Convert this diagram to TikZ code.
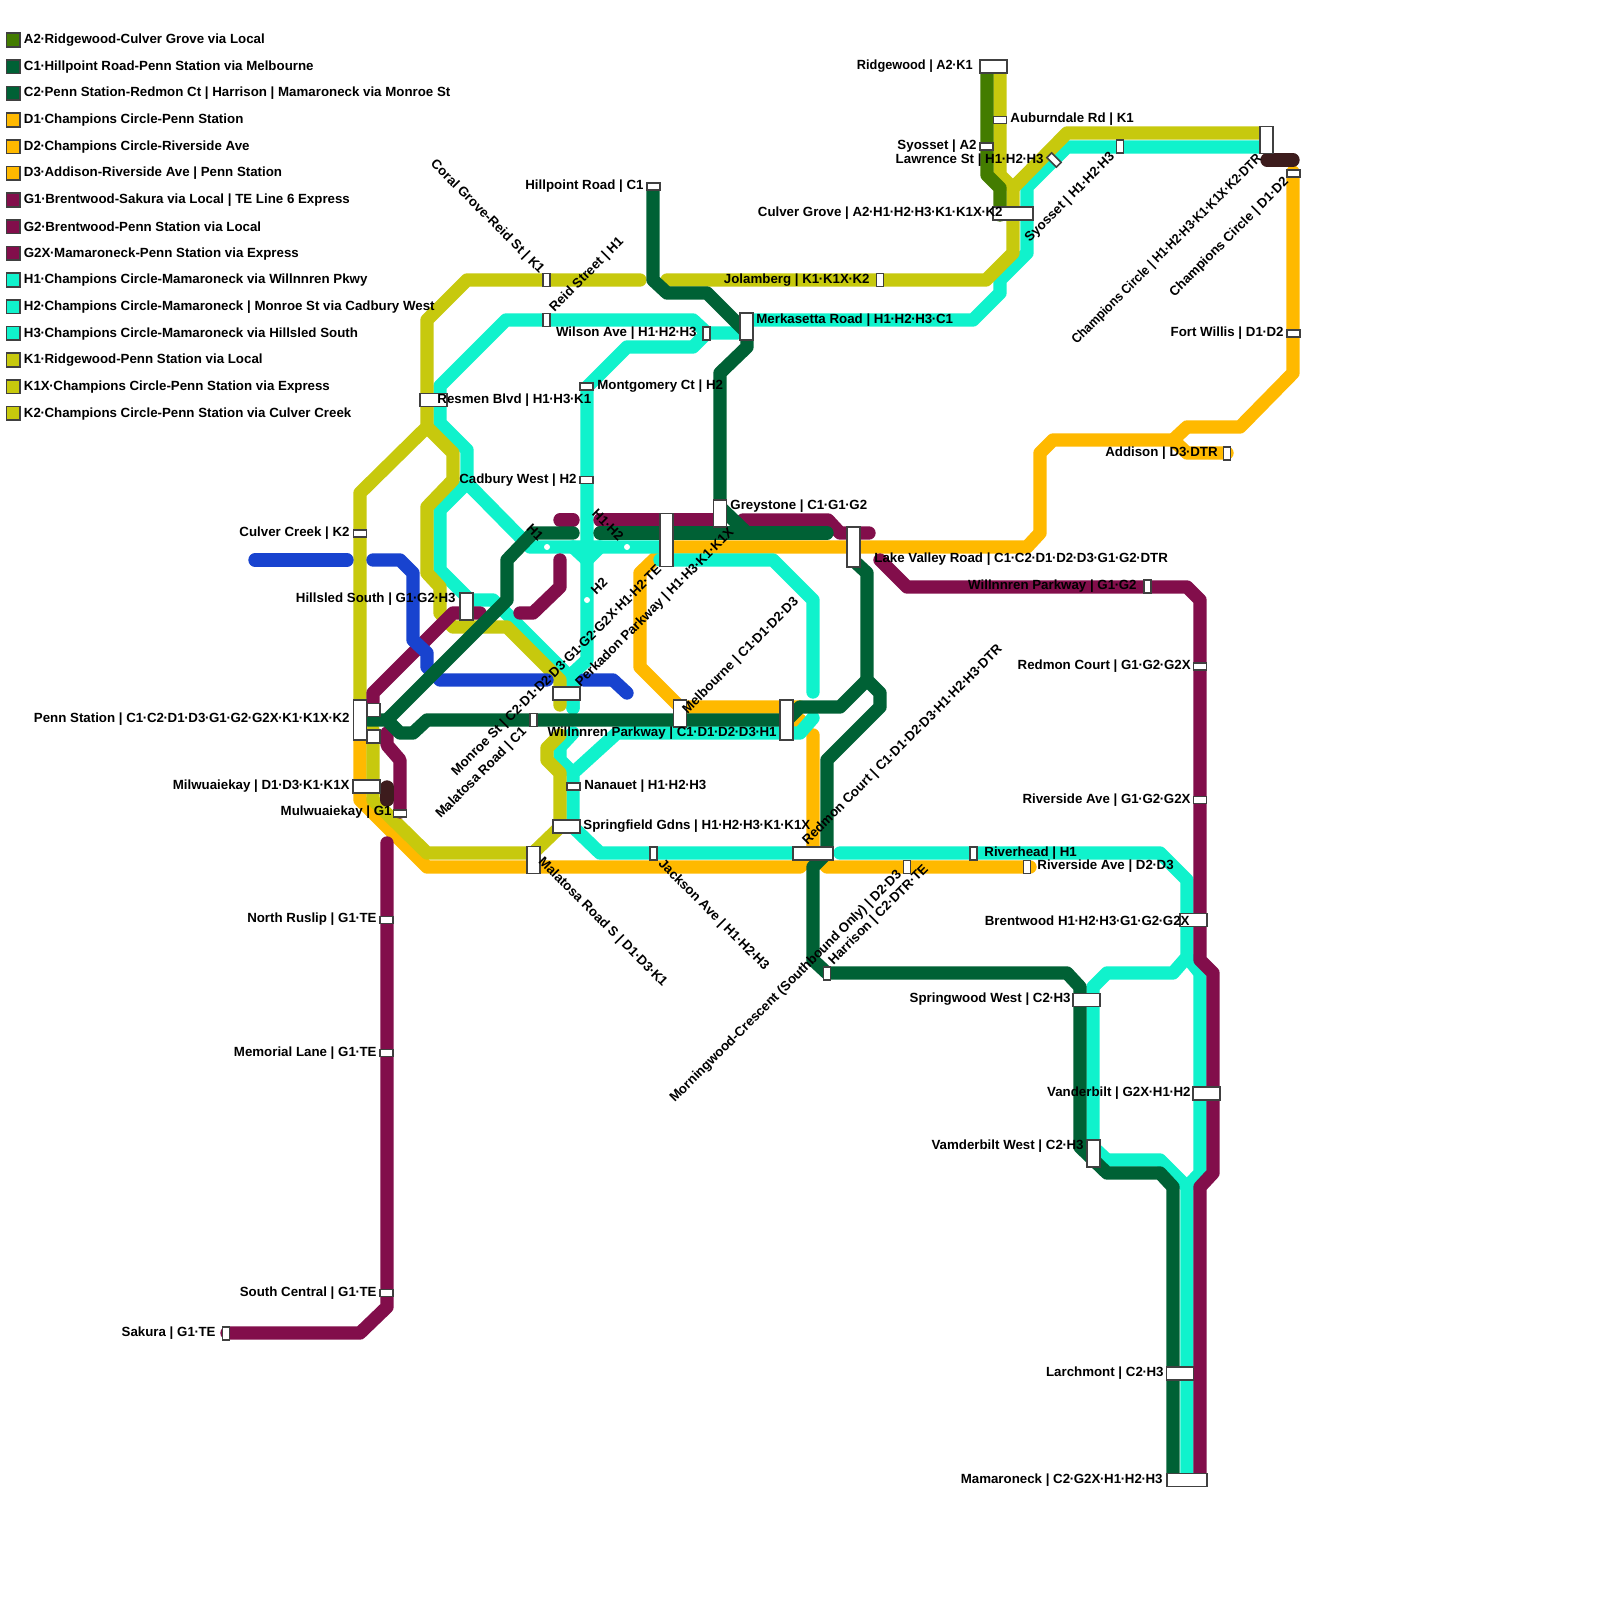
\documentclass[tikz,border=0pt]{standalone}
\usepackage{fontspec}
\setmainfont{Liberation Sans}
\catcode`·=\active
\protected\def·{\kern-.0275em\char"00B7\relax\kern-.0275em}
\definecolor{cA}{HTML}{437C00}
\definecolor{cC}{HTML}{006135}
\definecolor{cD}{HTML}{FFB900}
\definecolor{cG}{HTML}{820E4B}
\definecolor{cH}{HTML}{10F2CC}
\definecolor{cK}{HTML}{C7C90D}
\definecolor{cB}{HTML}{1843CF}
\definecolor{cT}{HTML}{3D1C1D}
\definecolor{cE}{HTML}{404040}
\newcommand{\stn}[5]{\node[stnbox,minimum width=#4*0.5pt,minimum height=#5*0.5pt] (#1) at (#2,#3) {};}
\newcommand{\lgd}[3]{\node[lgbox,fill=#2] (lg#1) at (13.3,{40+26.67*#1}) {}; \node[lbl,anchor=west,yshift=-0.75pt] (lt#1) at (23.5,{38.7+26.67*#1}) {#3};}
\tikzset{
  lbl/.style={font=\bfseries\fontsize{6.65}{8}\selectfont,inner sep=0pt,text=black},
  lineD/.style={line width=6.667pt,line cap=round,line join=round,cD},
  lineA/.style={lineD,cA}, lineC/.style={lineD,cC}, lineG/.style={lineD,cG},
  lineH/.style={lineD,cH}, lineK/.style={lineD,cK}, lineB/.style={lineD,cB}, lineT/.style={lineD,cT},
  stnbox/.style={rectangle,draw=cE,fill=white,line width=0.8pt,inner sep=0pt},
  lgbox/.style={rectangle,draw=cE,line width=0.8pt,inner sep=0pt,minimum width=6.8pt,minimum height=6.8pt},
  dot/.style={circle,fill=white,inner sep=0pt,minimum size=3pt}
}
\begin{document}
\begin{tikzpicture}[x=0.5pt,y=-0.5pt]
\useasboundingbox (0,0) rectangle (1600,1600);
\fill[white] (0,0) rectangle (1600,1600);
% orange
\draw[lineD] (1293,172)--(1293,373)--(1240,427)--(1187,427)--(1173,440)--(1053,440)--(1040,453)--(1040,533)--(1027,547)--(667,547)--(640,573)--(640,667)--(680,707)--(800,707);
\draw[lineD] (1173,440)--(1187,453)--(1227,453);
\draw[lineD] (787,733)--(800,720);
\draw[lineD] (813,735)--(813,853)--(800,867)--(427,867)--(360,800)--(360,720);
\draw[lineD] (813,853)--(827,867)--(1030,867);
% cyan
\draw[lineH] (1267,147)--(1067,147)--(1027,187)--(1027,253)--(1000,280)--(1000,293)--(973,320)--(747,320);
\draw[lineH] (737,333)--(707,333)--(693,320)--(506,320)--(440,386)--(440,423)--(467,450)--(467,483)--(530,547)--(658,547);
\draw[lineH] (707,333)--(693,347)--(627,347)--(587,387)--(587,660)--(573,673)--(573,708);
\draw[lineH] (467,483)--(440,510)--(440,570)--(470,600)--(493,600)--(573,680)--(573,708);
\draw[lineH] (573,547)--(587,560)--(600,547);
\draw[lineH] (660,560)--(773,560)--(813,600)--(813,692);
\draw[lineH] (813,718)--(800,733)--(617,733)--(573,773)--(573,827)--(600,853)--(793,853);
\draw[lineH] (573,773)--(560,760)--(560,747)--(573,733);
\draw[lineH] (840,853)--(1160,853)--(1187,880)--(1187,957)--(1173,973)--(1107,973)--(1093,987)--(1093,1147)--(1107,1160)--(1160,1160)--(1187,1187)--(1187,1480);
\draw[lineH] (1187,957)--(1200,973)--(1200,1173)--(1187,1187);
% olive
\draw[lineK] (1000,67)--(1000,175)--(1013,188)--(1013,253)--(986,280)--(667,280);
\draw[lineK] (1013,188)--(1067,133)--(1267,133);
\draw[lineK] (640,280)--(467,280)--(427,320)--(427,427)--(360,493)--(360,720);
\draw[lineK] (427,427)--(453,453)--(453,480)--(427,507)--(427,573)--(440,587)--(440,613)--(453,627)--(507,627)--(560,680)--(560,705);
\draw[lineK] (560,735)--(547,748)--(547,760)--(560,773)--(560,827)--(533,853)--(427,853)--(373,800)--(373,730);
% A2
\draw[lineA] (987,67)--(987,175)--(1000,188)--(1000,215);
% purple
\draw[lineG] (480,613)--(453,613)--(373,693)--(373,705);
\draw[lineG] (520,613)--(533,613)--(560,587)--(560,560);
\draw[lineG] (560,520)--(573,520);
\draw[lineG] (600,520)--(720,520);
\draw[lineG] (743,520)--(828,520)--(840,533)--(869,533);
\draw[lineG] (880,560)--(907,587)--(1187,587)--(1200,600)--(1200,960)--(1213,973)--(1213,1173)--(1200,1187)--(1200,1480);
\draw[lineG] (387,733)--(387,745)--(400,760)--(400,812);
\draw[lineG] (387,843)--(387,1307)--(360,1333)--(227,1333);
% blue
\draw[lineB] (255,560)--(347,560);
\draw[lineB] (373,560)--(400,560)--(413,573)--(413,640)--(427,653)--(427,667)--(440,680)--(547,680);
\draw[lineB] (584,680)--(613,680)--(627,693);
% green
\draw[lineC] (653,190)--(653,280)--(667,293)--(707,293)--(747,333)--(747,347)--(720,373)--(720,507)--(747,533);
\draw[lineC] (573,533)--(533,533)--(507,560)--(507,600)--(387,720);
\draw[lineC] (600,533)--(827,533);
\draw[lineC] (853,560)--(867,573)--(867,680)--(880,693)--(880,707)--(827,760)--(827,853);
\draw[lineC] (867,680)--(840,707)--(800,707)--(787,720);
\draw[lineC] (360,720)--(387,720)--(400,733)--(413,733)--(427,720)--(787,720);
\draw[lineC] (827,853)--(813,867)--(813,960)--(827,973)--(1067,973)--(1080,987)--(1080,1147)--(1107,1173)--(1160,1173)--(1173,1187)--(1173,1480);
% transfers
\draw[lineT] (387,787)--(387,800);
\draw[lineT] (1267,160)--(1293,160);
% dots
\node[dot] (d1) at (547,547) {};
\node[dot] (d2) at (627,547) {};
\node[dot] (d3) at (587,600) {};
% stations
\stn{resmen}{433.5}{400}{27}{13.3}
\stn{montg}{586.5}{386.5}{13.3}{6.7}
\stn{cadbury}{586.5}{480}{13.3}{6.7}
\stn{culverc}{360}{533.5}{13.3}{6.7}
\stn{hillsled}{466.5}{606.5}{13.3}{26.7}
\stn{perk}{666.5}{540}{13.3}{53.3}
\stn{monroe}{566.5}{693.5}{27}{13.3}
\stn{malar}{533.5}{720}{6.7}{13.3}
\stn{melb}{680}{713.5}{13.3}{26.7}
\stn{penn}{360}{720}{13.3}{40}
\stn{penna}{373.5}{710}{13.3}{13.3}
\stn{pennb}{373.5}{736.5}{13.3}{13.3}
\stn{milw}{366.5}{786.5}{27}{13.3}
\stn{mulw}{400}{813.5}{13.3}{6.7}
\stn{nanauet}{573.5}{786.5}{13.3}{6.7}
\stn{spring}{566.5}{826.5}{27}{13.3}
\stn{malas}{533.5}{860}{13.3}{26.7}
\stn{jackson}{653.5}{853.5}{6.7}{13.3}
\stn{willp}{786.5}{720}{13.3}{40}
\stn{redmon}{813}{853.5}{40}{13.3}
\stn{lakev}{853.5}{547}{13.3}{40}
\stn{grey}{720}{513.5}{13.3}{26.7}
\stn{merk}{746.5}{326.5}{13.3}{26.7}
\stn{wilson}{706.5}{333.5}{6.7}{13.3}
\stn{reid}{546.5}{320}{6.7}{13.3}
\stn{coral}{546.5}{280}{6.7}{13.3}
\stn{hillp}{653.5}{186.5}{13.3}{6.7}
\stn{jolam}{880}{280}{6.7}{13.3}
\stn{ridge}{993.5}{66.5}{27}{13.3}
\stn{aubd}{1000}{120}{13.3}{6.7}
\stn{syoa}{986.5}{146.5}{13.3}{6.7}
\node[stnbox,minimum width=3.35pt,minimum height=6.65pt,rotate=45] (lawr) at (1054,160) {};
\stn{culverg}{1013}{213.5}{40}{13.3}
\stn{syoh}{1120}{146.5}{6.7}{13.3}
\stn{champ}{1266.5}{140}{13.3}{26.7}
\stn{champd}{1293.5}{173.5}{13.3}{6.7}
\stn{fort}{1293.5}{333.5}{13.3}{6.7}
\stn{addison}{1227}{453.5}{6.7}{13.3}
\stn{willg}{1147.5}{586.5}{6.7}{13.3}
\stn{redg}{1200}{666.5}{13.3}{6.7}
\stn{rivg}{1200}{800}{13.3}{6.7}
\stn{brent}{1193.5}{920}{27}{13.3}
\stn{riverh}{973.5}{853.5}{6.7}{13.3}
\stn{rivd}{1027}{867}{6.7}{13.3}
\stn{morn}{907}{867}{6.7}{13.3}
\stn{harr}{827}{973.5}{6.7}{13.3}
\stn{sprw}{1086.5}{1000}{27}{13.3}
\stn{vand}{1206.5}{1093.5}{27}{13.3}
\stn{vamw}{1093.5}{1153.5}{13.3}{26.7}
\stn{larch}{1180}{1373.5}{27}{13.3}
\stn{mama}{1187}{1480}{40}{13.3}
\stn{north}{386.5}{920}{13.3}{6.7}
\stn{memo}{386.5}{1053}{13.3}{6.7}
\stn{south}{386.5}{1293}{13.3}{6.7}
\stn{sakura}{226}{1333.5}{6.7}{13.3}
% legend
\lgd{0}{cA}{A2·Ridgewood-Culver Grove via Local}
\lgd{1}{cC}{C1·Hillpoint Road-Penn Station via Melbourne}
\lgd{2}{cC}{C2·Penn Station-Redmon Ct | Harrison | Mamaroneck via Monroe St}
\lgd{3}{cD}{D1·Champions Circle-Penn Station}
\lgd{4}{cD}{D2·Champions Circle-Riverside Ave}
\lgd{5}{cD}{D3·Addison-Riverside Ave | Penn Station}
\lgd{6}{cG}{G1·Brentwood-Sakura via Local | TE Line 6 Express}
\lgd{7}{cG}{G2·Brentwood-Penn Station via Local}
\lgd{8}{cG}{G2X·Mamaroneck-Penn Station via Express}
\lgd{9}{cH}{H1·Champions Circle-Mamaroneck via Willnnren Pkwy}
\lgd{10}{cH}{H2·Champions Circle-Mamaroneck | Monroe St via Cadbury West}
\lgd{11}{cH}{H3·Champions Circle-Mamaroneck via Hillsled South}
\lgd{12}{cK}{K1·Ridgewood-Penn Station via Local}
\lgd{13}{cK}{K1X·Champions Circle-Penn Station via Express}
\lgd{14}{cK}{K2·Champions Circle-Penn Station via Culver Creek}
% labels, right aligned
\tikzset{le/.style={lbl,anchor=east,yshift=-0.75pt},lw/.style={lbl,anchor=west,yshift=-0.75pt},
  re/.style={lbl,anchor=east,rotate=45},rw/.style={lbl,anchor=west,rotate=45},
  de/.style={lbl,anchor=east,rotate=-45},dw/.style={lbl,anchor=west,rotate=-45}}
\node[le] (t1) at (973,65) {\scalebox{0.96}[1]{Ridgewood | A2·K1}};
\node[le] (t2) at (977,145) {Syosset | A2};
\node[le] (t3) at (1044,159) {Lawrence St | H1·H2·H3};
\node[lw] (t4) at (1010,118) {Auburndale Rd | K1};
\node[le] (t5) at (1003,212) {Culver Grove | A2·H1·H2·H3·K1·K1X·K2};
\node[le] (t6) at (644,185) {Hillpoint Road | C1};
\node[le] (t7) at (870,279) {Jolamberg | K1·K1X·K2};
\node[lw] (t8) at (756,319) {Merkasetta Road | H1·H2·H3·C1};
\node[le] (t9) at (697,332) {Wilson Ave | H1·H2·H3};
\node[lw] (t10) at (597,385) {Montgomery Ct | H2};
\node[lw] (t11) at (437,399) {Resmen Blvd | H1·H3·K1};
\node[le] (t12) at (577,479) {Cadbury West | H2};
\node[le] (t13) at (350,532) {Culver Creek | K2};
\node[le] (t14) at (456,598) {Hillsled South | G1·G2·H3};
\node[lw] (t15) at (730,505) {Greystone | C1·G1·G2};
\node[lw] (t16) at (874,558) {Lake Valley Road | C1·C2·D1·D2·D3·G1·G2·DTR};
\node[le] (t17) at (1137,585) {Willnnren Parkway | G1·G2};
\node[le] (t18) at (1218,452) {Addison | D3·DTR};
\node[le] (t19) at (1284,332) {Fort Willis | D1·D2};
\node[le] (t20) at (1191,665) {Redmon Court | G1·G2·G2X};
\node[le] (t21) at (1191,799) {Riverside Ave | G1·G2·G2X};
\node[le] (t22) at (350,718) {Penn Station | C1·C2·D1·D3·G1·G2·G2X·K1·K1X·K2};
\node[le] (t23) at (777,732) {Willnnren Parkway | C1·D1·D2·D3·H1};
\node[le] (t24) at (350,785) {Milwuaiekay | D1·D3·K1·K1X};
\node[le] (t25) at (392,811) {Mulwuaiekay | G1};
\node[lw] (t26) at (584,785) {Nanauet | H1·H2·H3};
\node[lw] (t27) at (583,825) {Springfield Gdns | H1·H2·H3·K1·K1X};
\node[lw] (t28) at (984,852) {Riverhead | H1};
\node[lw] (t29) at (1037,865) {Riverside Ave | D2·D3};
\node[le] (t30) at (1190,919) {Brentwood H1·H2·H3·G1·G2·G2X};
\node[le] (t31) at (1071,998) {Springwood West | C2·H3};
\node[le] (t32) at (1191,1092) {Vanderbilt | G2X·H1·H2};
\node[le] (t33) at (1084,1145) {Vamderbilt West | C2·H3};
\node[le] (t34) at (1164,1372) {Larchmont | C2·H3};
\node[le] (t35) at (1163,1479) {Mamaroneck | C2·G2X·H1·H2·H3};
\node[le] (t36) at (377,918) {North Ruslip | G1·TE};
\node[le] (t37) at (377,1052) {Memorial Lane | G1·TE};
\node[le] (t38) at (377,1292) {South Central | G1·TE};
\node[le] (t39) at (216,1332) {Sakura | G1·TE};
% rotated
\node[de] (r1) at (542,272) {Coral Grove-Reid St | K1};
\node[rw] (r2) at (552,310) {Reid Street | H1};
\node[re] (r3) at (1113,155) {Syosset | H1·H2·H3};
\node[re] (r4) at (1260,157) {\scalebox{0.92}[1]{Champions Circle | H1·H2·H3·K1·K1X·K2·DTR}};
\node[re] (r5) at (1287,180) {Champions Circle | D1·D2};
\node[rw] (r6) at (578,685) {Perkadon Parkway | H1·H3·K1·K1X};
\node[re] (r7) at (660,568) {Monroe St | C2·D1·D2·D3·G1·G2·G2X·H1·H2·TE};
\node[re] (r8) at (525,730) {Malatosa Road | C1};
\node[rw] (r9) at (685,712) {Melbourne | C1·D1·D2·D3};
\node[rw] (r10) at (805,843) {Redmon Court | C1·D1·D2·D3·H1·H2·H3·DTR};
\node[dw] (r11) at (540,860) {Malatosa Road S | D1·D3·K1};
\node[dw] (r12) at (660,862) {Jackson Ave | H1·H2·H3};
\node[re] (r13) at (900,873) {Morningwood-Crescent (Southbound Only) | D2·D3};
\node[rw] (r14) at (831,963) {Harrison | C2·DTR·TE};
\node[lbl,rotate=-45] (r15) at (535,532) {H1};
\node[lbl,rotate=-45] (r16) at (608,525) {H1·H2};
\node[lbl,rotate=45] (r17) at (599,586) {H2};
\end{tikzpicture}
\end{document}
